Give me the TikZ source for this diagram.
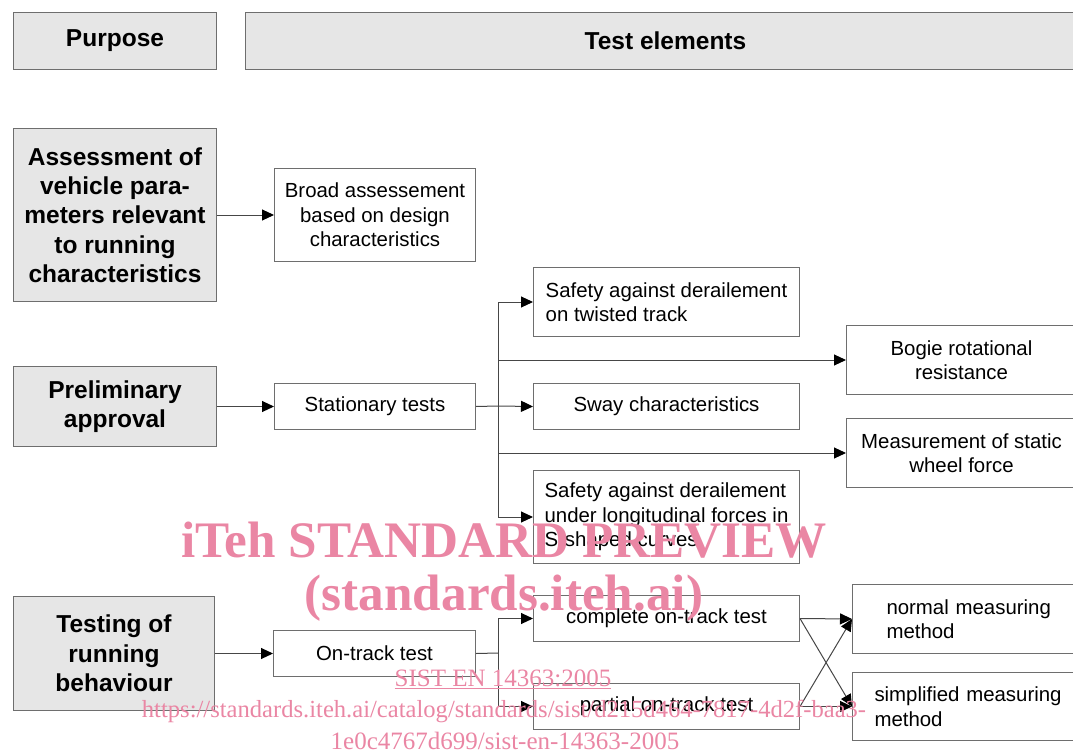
\documentclass[tikz,border=0pt]{standalone}
\usepackage{fontspec}
\setmainfont{Liberation Sans}
\newfontfamily\wmfont{Liberation Serif}
\usetikzlibrary{arrows.meta}
\definecolor{boxgray}{RGB}{230,230,230}
\definecolor{linegray}{RGB}{110,110,110}
\definecolor{conncol}{RGB}{70,70,70}
\definecolor{wmpink}{RGB}{234,134,164}
\tikzset{
  box/.style={draw=linegray, line width=1pt, rectangle, inner sep=0pt, align=center, anchor=north west, font=\fontsize{20.4}{24.5}\selectfont},
  purp/.style={box, fill=boxgray, font=\bfseries\fontsize{24.5}{29.3}\selectfont},
  ln/.style={draw=conncol, line width=1pt},
  arr/.style={ln, -{Triangle[length=12pt,width=11pt,color=black]}},
  wm/.style={text=wmpink, inner sep=0pt}
}
\begin{document}
\begin{tikzpicture}[x=1pt,y=-1pt]
\useasboundingbox (0,0) rectangle (1073,752);
% headers
\node[purp, minimum width=203pt, minimum height=57pt] (hpurp) at (13,12) {Purpose};
\node[purp, minimum width=840pt, minimum height=57pt] (htest) at (245,12) {Test elements};
% row 1
\node[purp, minimum width=203pt, minimum height=173pt] (assess) at (13,128) {Assessment of\\vehicle para-\\meters relevant\\to running\\characteristics};
\node[box, minimum width=201pt, minimum height=93pt] (broad) at (274,168) {Broad assessement\\based on design\\characteristics};
% row 2
\node[purp, minimum width=203pt, minimum height=80pt] (prelim) at (13,366) {Preliminary\\approval};
\node[box, minimum width=201pt, minimum height=46pt] (stat) at (274,383) {Stationary tests};
\node[box, align=left, minimum width=266pt, minimum height=69pt] (twist) at (533,267) {Safety against derailement\\on twisted track};
\node[box, minimum width=230pt, minimum height=69pt] (bogie) at (846,325) {Bogie rotational\\resistance};
\node[box, minimum width=266pt, minimum height=46pt] (sway) at (533,383) {Sway characteristics};
\node[box, minimum width=230pt, minimum height=69pt] (meas) at (846,418) {Measurement of static\\wheel force};
\node[box, align=left, minimum width=266pt, minimum height=93pt] (long) at (533,470) {Safety against derailement\\under longitudinal forces in\\S-shaped curves};
% row 3
\node[purp, minimum width=201pt, minimum height=114pt] (testing) at (13,596) {Testing of\\running\\behaviour};
\node[box, minimum width=202pt, minimum height=46pt] (ontrack) at (273,630) {On-track test};
\node[box, minimum width=266pt, minimum height=46pt] (complete) at (533,595) {complete on-track test};
\node[box, minimum width=266pt, minimum height=46pt] (partial) at (533,683) {partial on-track test};
\node[box, align=left, text width=180pt, inner xsep=34pt, minimum height=69pt] (normal) at (852,584) {normal measuring\\method};
\node[box, align=left, text width=200pt, inner xsep=22pt, minimum height=68pt] (simp) at (852,672) {simplified measuring\\method};
% connectors
\draw[arr] (assess.east) -- (broad.west);
\draw[arr] (prelim.east) -- (stat.west);
\coordinate (ta) at (498,406);
\draw[ln] (stat.east) -- (ta);
\draw[ln] (ta |- twist.west) -- (ta |- long.west);
\draw[arr] (ta |- twist.west) -- (twist.west);
\draw[arr] (ta |- bogie.west) -- (bogie.west);
\draw[arr] (ta) -- (sway.west);
\draw[arr] (ta |- meas.west) -- (meas.west);
\draw[arr] (ta |- long.west) -- (long.west);
\draw[arr] (testing.east) -- (ontrack.west);
\coordinate (tb) at (498,653);
\draw[ln] (ontrack.east) -- (tb);
\draw[ln] (tb |- complete.west) -- (tb |- partial.west);
\draw[arr] (tb |- complete.west) -- (complete.west);
\draw[arr] (tb |- partial.west) -- (partial.west);
\draw[arr] (complete.east) -- (normal.west);
\draw[arr] (complete.east) -- (simp.west);
\draw[arr] (partial.east) -- (normal.west);
\draw[arr] (partial.east) -- (simp.west);
% watermark
\node[wm, font=\wmfont\bfseries\fontsize{51.2}{51}\selectfont] (wm1) at (504,540) {iTeh STANDARD PREVIEW};
\node[wm, font=\wmfont\bfseries\fontsize{51.2}{51}\selectfont] (wm2) at (504,598) {(standards.iteh.ai)};
\node[wm, font=\wmfont\fontsize{25}{25}\selectfont] (wm3) at (503,679) {\underline{SIST EN 14363:2005}};
\node[wm, font=\wmfont\fontsize{24.6}{25}\selectfont] (wm4) at (504,711) {https://standards.iteh.ai/catalog/standards/sist/d215d464-7817-4d2f-baa3-};
\node[wm, font=\wmfont\fontsize{25}{25}\selectfont] (wm5) at (505,741) {1e0c4767d699/sist-en-14363-2005};
\end{tikzpicture}
\end{document}
